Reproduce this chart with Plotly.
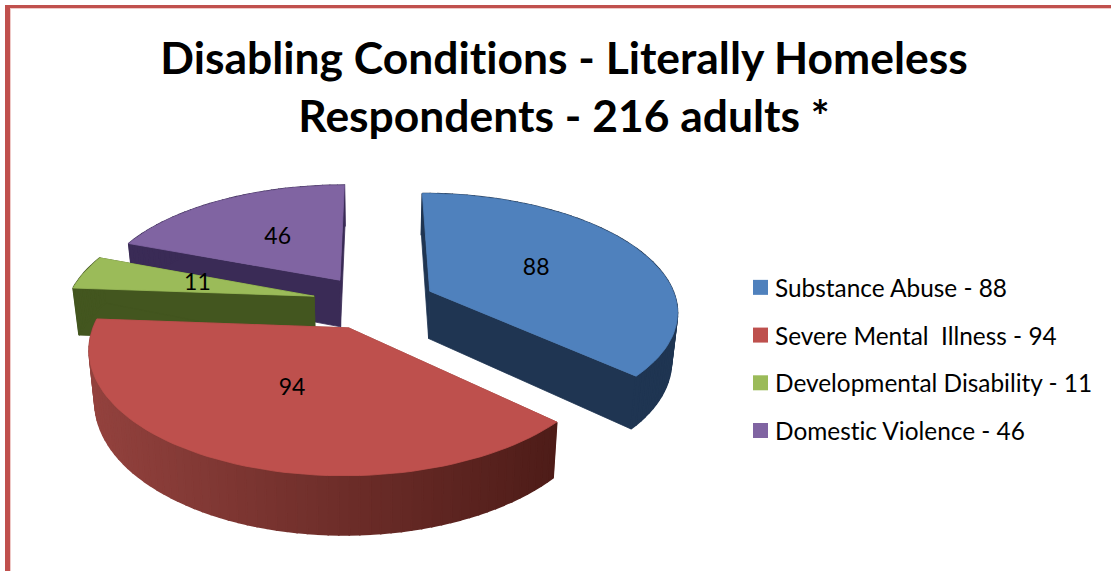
import math
import plotly.graph_objects as go

# ---- data ----
categories = ["Substance Abuse", "Severe Mental  Illness", "Developmental Disability", "Domestic Violence"]
values = [88, 94, 11, 46]
legend_labels = [f"{c} - {v}" for c, v in zip(categories, values)]
title_text = "Disabling Conditions - Literally Homeless<br>Respondents - 216 adults *"

# ---- styles ----
top_colors = ["#4F81BD", "#BE504D", "#9BBB59", "#8064A2"]
side_left = ["#1F3552", "#93423E", "#43561F", "#3A2B56"]
side_right = ["#1F3552", "#4E1C18", "#43561F", "#3A2B56"]
FONT = "Lato"
W, H = 1111, 571
CX, CY, RX, RY, K, EXPLODE_X, EXPLODE_Z, DEPTH, SHRINK = 374, 302, 247, 116, 0.155, 0.25, 0.235, 48, 0.98


def project(X, Z):
    s = 1 / (1 + K * Z)
    return CX + RX * X * s, CY - RY * Z * s, s


def lower(X, Z):
    x, y, s = project(X, Z)
    return CX + (x - CX) * SHRINK, y + DEPTH * s


def hexmix(a, b, t):
    ca = [int(a[i:i + 2], 16) for i in (1, 3, 5)]
    cb = [int(b[i:i + 2], 16) for i in (1, 3, 5)]
    return "#%02x%02x%02x" % tuple(round(p + (q - p) * t) for p, q in zip(ca, cb))


total = sum(values)
slices = []
acc = 0
for i, v in enumerate(values):
    a0 = acc / total * 2 * math.pi
    acc += v
    a1 = acc / total * 2 * math.pi
    mid = (a0 + a1) / 2
    slices.append(dict(i=i, a0=a0, a1=a1, ox=EXPLODE_X * math.sin(mid), oz=EXPLODE_Z * math.cos(mid), mid=mid))


def poly(fig, xs, ys, color, width=0.8):
    fig.add_trace(go.Scatter(x=xs + xs[:1], y=ys + ys[:1], mode="lines", fill="toself", fillcolor=color,
                             line=dict(color=color, width=width), hoverinfo="skip", showlegend=False))


fig = go.Figure()
for sl in [slices[3], slices[2], slices[0], slices[1]]:
    i, ox, oz = sl["i"], sl["ox"], sl["oz"]
    n = max(2, int((sl["a1"] - sl["a0"]) / math.radians(2)))
    angles = [sl["a0"] + (sl["a1"] - sl["a0"]) * j / n for j in range(n + 1)]
    world = [(ox + math.sin(a), oz + math.cos(a)) for a in angles]
    # cut faces
    for edge in (world[0], world[-1]):
        a = project(ox, oz)
        b = project(*edge)
        c = lower(*edge)
        d = lower(ox, oz)
        poly(fig, [a[0], b[0], c[0], d[0]], [a[1], b[1], c[1], d[1]], side_left[i])
    # outer rim, shaded along the width
    for p, q in zip(world[:-1], world[1:]):
        a, b, c, d = project(*p), project(*q), lower(*q), lower(*p)
        t = min(1, max(0, (a[0] - 90) / (560 - 90)))
        poly(fig, [a[0], b[0], c[0], d[0]], [a[1], b[1], c[1], d[1]],
             hexmix(side_left[i], side_right[i], t), width=1.6)
    # top face
    pts = [project(ox, oz)] + [project(*w) for w in world]
    poly(fig, [p[0] for p in pts], [p[1] for p in pts], top_colors[i])

# data labels
lx, ly, lt = [], [], []
for sl in slices:
    x, y, _ = project(sl["ox"] + 0.5 * math.sin(sl["mid"]), sl["oz"] + 0.5 * math.cos(sl["mid"]))
    lx.append(x)
    ly.append(y)
    lt.append(str(values[sl["i"]]))
fig.add_trace(go.Scatter(x=lx, y=ly, text=lt, mode="text", textposition="middle center",
                         textfont=dict(family=FONT, size=23, color="#000000"), hoverinfo="skip", showlegend=False))

# legend entries
for i, name in enumerate(legend_labels):
    fig.add_trace(go.Scatter(x=[None], y=[None], mode="markers", name=name, legendgroup=name,
                             marker=dict(symbol="square", size=15, color=top_colors[i])))

border = "#C0504D"
halo = "#EFC9C7"
shapes = [
    dict(type="rect", xref="x", yref="y", x0=10, x1=11, y0=8, y1=H, fillcolor=halo, line_width=0, layer="below"),
    dict(type="rect", xref="x", yref="y", x0=10, x1=W, y0=8, y1=9, fillcolor=halo, line_width=0, layer="below"),
    dict(type="rect", xref="x", yref="y", x0=5, x1=10, y0=5, y1=H, fillcolor=border, line_width=0, layer="below"),
    dict(type="rect", xref="x", yref="y", x0=5, x1=W, y0=5, y1=8, fillcolor=border, line_width=0, layer="below"),
]

fig.update_layout(
    width=W, height=H, margin=dict(l=0, r=0, t=0, b=0), paper_bgcolor="white", plot_bgcolor="white",
    xaxis=dict(range=[0, W], visible=False, fixedrange=True),
    yaxis=dict(range=[H, 0], visible=False, fixedrange=True),
    shapes=shapes,
    title=dict(text=title_text, x=564 / W, xanchor="center", y=1 - 74 / H, yanchor="top", pad=dict(t=0),
               automargin=False, font=dict(family=FONT, size=44.4, color="#000000", weight="bold")),
    legend=dict(x=735 / W, y=1 - 265 / H, xanchor="left", yanchor="top", bgcolor="rgba(0,0,0,0)",
                font=dict(family=FONT, size=24.4, color="#000000"), tracegroupgap=13, itemclick=False,
                itemdoubleclick=False),
    showlegend=True,
)
post = """
document.body.style.margin='0';document.body.style.overflow='hidden';
var st=document.createElement('style');st.textContent='text{font-variant-ligatures:none !important;}';
document.head.appendChild(st);
document.querySelectorAll('.legendpoints path').forEach(function(p){p.setAttribute('transform','translate(25.5,0)');});
"""
fig.write_html("out.html", post_script=post, config=dict(displayModeBar=False))
